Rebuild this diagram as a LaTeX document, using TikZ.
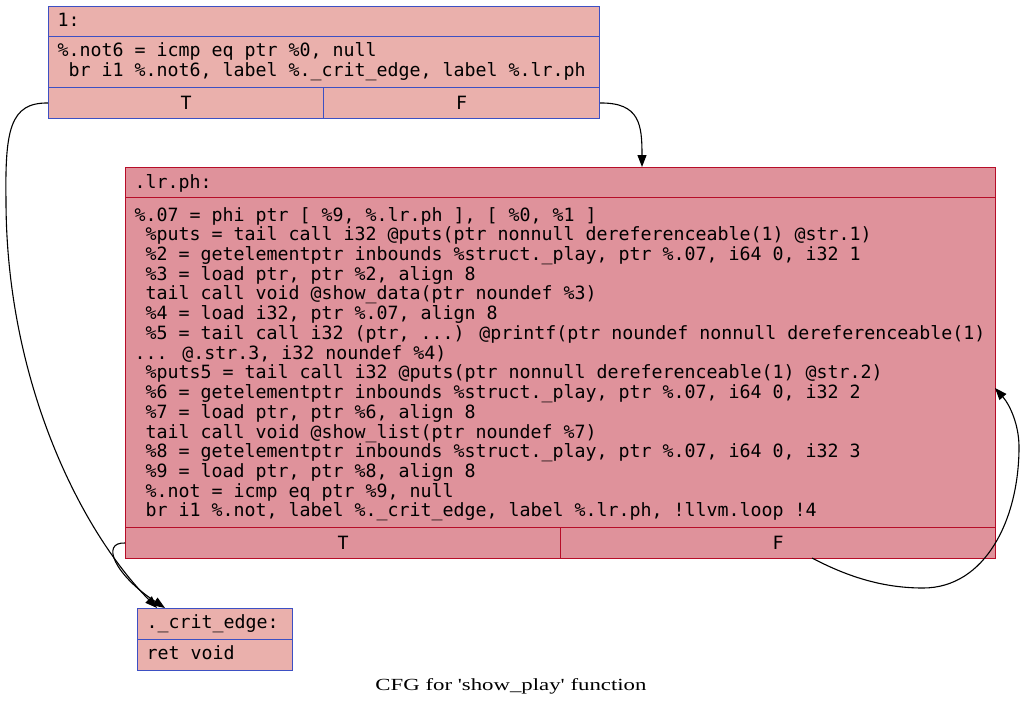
\documentclass[tikz,border=0pt]{standalone}
\usepackage{fontspec}
\usepackage{graphicx}
\usetikzlibrary{arrows.meta}
\newfontfamily\monof{DejaVu Sans Mono}
\newfontfamily\capf{Liberation Serif}
\newcommand\cfgfont{\monof\fontsize{18.27pt}{20pt}\selectfont}
\definecolor{fillA}{RGB}{234,176,172}
\definecolor{fillB}{RGB}{223,146,155}
\definecolor{blueBd}{RGB}{61,80,195}
\definecolor{redBd}{RGB}{183,13,40}
\tikzset{
  cellA/.style={draw=blueBd, fill=fillA, line width=1pt, inner sep=0pt, anchor=north west, font=\cfgfont},
  cellB/.style={draw=redBd, fill=fillB, line width=1pt, inner sep=0pt, anchor=north west, font=\cfgfont},
  code/.style={anchor=base west, inner sep=0pt, font=\cfgfont},
  cfgedge/.style={draw=black, line width=1.1pt, -{Triangle[length=12pt,width=9pt]}}
}
\newcommand\lny[1]{{221+19.73*(#1-1)}}
\begin{document}
\begin{tikzpicture}[x=1pt,y=-1pt]
\fill[white] (0,0) rectangle (1024,707);
\useasboundingbox (0,0) rectangle (1024,707);
% block 1
\node[cellA, minimum width=551, minimum height=30] (b1h) at (48,6) {};
\node[cellA, minimum width=551, minimum height=51] (b1b) at (48,36) {};
\node[cellA, minimum width=275, minimum height=31] (b1t) at (48,87) {T};
\node[cellA, minimum width=276, minimum height=31] (b1f) at (323,87) {F};
\node[code] (b1l0) at (57.5,26.7) {1:};
\node[code] (b1l1) at (57.5,56.7) {\%.not6 = icmp eq ptr \%0, null};
\node[code] (b1l2) at (57.5,76.7) {\ br i1 \%.not6, label \%.\_crit\_edge, label \%.lr.ph};
% block 2
\node[cellB, minimum width=870, minimum height=30] (b2h) at (125,167) {};
\node[cellB, minimum width=870, minimum height=330] (b2b) at (125,197) {};
\node[cellB, minimum width=435, minimum height=31] (b2t) at (125,527) {T};
\node[cellB, minimum width=435, minimum height=31] (b2f) at (560,527) {F};
\node[code] (b2l0) at (134.5,188) {.lr.ph:};
\node[code] (b2l1) at (134.5,\lny{1}) {\%.07 = phi ptr [ \%9, \%.lr.ph ], [ \%0, \%1 ]};
\node[code] (b2l2) at (134.5,\lny{2}) {\ \%puts = tail call i32 @puts(ptr nonnull dereferenceable(1) @str.1)};
\node[code] (b2l3) at (134.5,\lny{3}) {\ \%2 = getelementptr inbounds \%struct.\_play, ptr \%.07, i64 0, i32 1};
\node[code] (b2l4) at (134.5,\lny{4}) {\ \%3 = load ptr, ptr \%2, align 8};
\node[code] (b2l5) at (134.5,\lny{5}) {\ tail call void @show\_data(ptr noundef \%3)};
\node[code] (b2l6) at (134.5,\lny{6}) {\ \%4 = load i32, ptr \%.07, align 8};
\node[code] (b2l7) at (134.5,\lny{7}) {\ \%5 = tail call i32 (ptr, ...) @printf(ptr noundef nonnull dereferenceable(1)};
\node[code] (b2l8) at (134.5,\lny{8}) {... @.str.3, i32 noundef \%4)};
\node[code] (b2l9) at (134.5,\lny{9}) {\ \%puts5 = tail call i32 @puts(ptr nonnull dereferenceable(1) @str.2)};
\node[code] (b2l10) at (134.5,\lny{10}) {\ \%6 = getelementptr inbounds \%struct.\_play, ptr \%.07, i64 0, i32 2};
\node[code] (b2l11) at (134.5,\lny{11}) {\ \%7 = load ptr, ptr \%6, align 8};
\node[code] (b2l12) at (134.5,\lny{12}) {\ tail call void @show\_list(ptr noundef \%7)};
\node[code] (b2l13) at (134.5,\lny{13}) {\ \%8 = getelementptr inbounds \%struct.\_play, ptr \%.07, i64 0, i32 3};
\node[code] (b2l14) at (134.5,\lny{14}) {\ \%9 = load ptr, ptr \%8, align 8};
\node[code] (b2l15) at (134.5,\lny{15}) {\ \%.not = icmp eq ptr \%9, null};
\node[code] (b2l16) at (134.5,\lny{16}) {\ br i1 \%.not, label \%.\_crit\_edge, label \%.lr.ph, !llvm.loop !4};
% block 3
\node[cellA, minimum width=155, minimum height=31] (b3h) at (137,608) {};
\node[cellA, minimum width=155, minimum height=31] (b3b) at (137,639) {};
\node[code] (b3l0) at (146.5,628.3) {.\_crit\_edge:};
\node[code] (b3l1) at (146.5,659.3) {ret void};
% ports
\coordinate (b3in1) at (157,608);
\coordinate (b3in2) at (165,608);
\coordinate (b2in1) at (642,167);
\coordinate (b2in2) at (995,388);
\coordinate (b2fout) at (812,558);
% edges
\draw[cfgedge] (b1t.west) .. controls (10,102.5) and (5,130) .. (6,200)
   .. controls (6,380) and (80,530) .. (b3in1);
\draw[cfgedge] (b1f.east) .. controls (640,102.5) and (642,125) .. (b2in1);
\draw[cfgedge] (b2t.west) .. controls (100,542) and (115,575) .. (b3in2);
\draw[cfgedge] (b2fout) .. controls (850,578) and (885,588) .. (923,588)
   .. controls (985,588) and (1019,520) .. (1019,447)
   .. controls (1019,425) and (1010,405) .. (b2in2);
% caption
\node[anchor=base, inner sep=0pt] (cap) at (511,690.7)
  {\resizebox{271pt}{\height}{\capf\fontsize{17pt}{20pt}\selectfont CFG for \textquotesingle show\_play\textquotesingle\ function}};
\end{tikzpicture}
\end{document}
